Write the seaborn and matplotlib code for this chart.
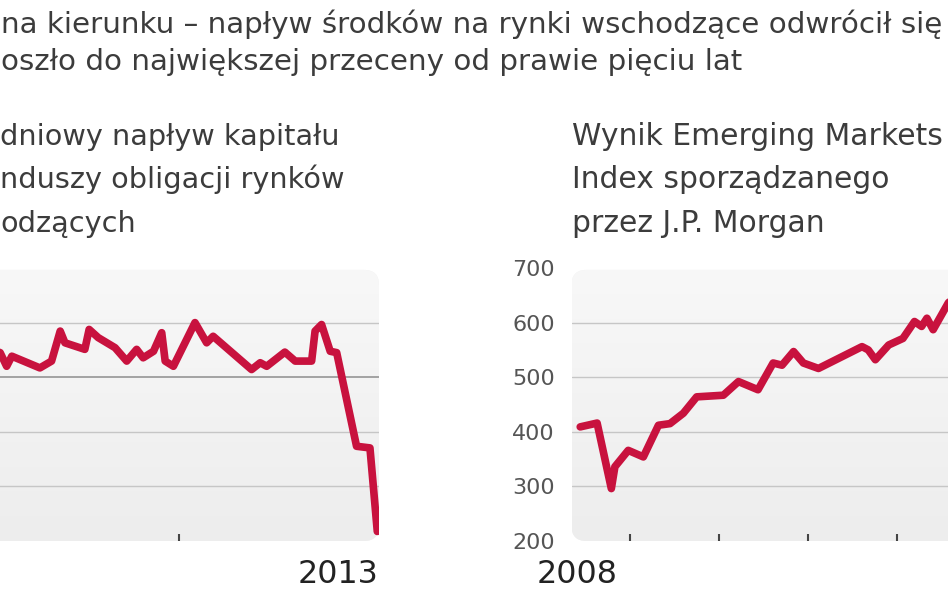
import numpy as np
import pandas as pd
import matplotlib
matplotlib.use("Agg")
import matplotlib.pyplot as plt
from matplotlib.patches import FancyBboxPatch
import seaborn as sns

# ---------------- data ----------------
title_lines = ["na kierunku – napływ środków na rynki wschodzące odwrócił się",
               "oszło do największej przeceny od prawie pięciu lat"]
left_subtitle = ["dniowy napływ kapitału",
                 "nduszy obligacji rynków",
                 "odzących"]
right_subtitle = ["Wynik Emerging Markets",
                  "Index sporządzanego",
                  "przez J.P. Morgan"]
left_year_label = "2013"
right_year_label = "2008"

# weekly net flows into EM bond funds (bn USD), time in fractional years
flow_dates = [2012.563, 2012.586, 2012.601, 2012.613, 2012.678, 2012.705, 2012.725,
              2012.736, 2012.782, 2012.792, 2012.813, 2012.852, 2012.879, 2012.902,
              2012.917, 2012.941, 2012.960, 2012.968, 2012.987, 2013.037, 2013.064,
              2013.079, 2013.168, 2013.188, 2013.203, 2013.245, 2013.269, 2013.307,
              2013.315, 2013.330, 2013.350, 2013.365, 2013.411, 2013.442, 2013.459]
flow_values = [1.02, 0.90, 0.40, 0.77, 0.34, 0.59, 1.69,
               1.26, 1.02, 1.75, 1.45, 1.08, 0.59, 1.02,
               0.71, 0.95, 1.63, 0.59, 0.40, 2.00, 1.26,
               1.50, 0.28, 0.53, 0.40, 0.92, 0.59, 0.59,
               1.69, 1.93, 0.95, 0.90, -2.53, -2.59, -5.65]
flow_grid = [2, -2, -4]
flow_zero = 0
flow_xticks = [2012.5, 2013.0]

# J.P. Morgan EMBI level
embi_dates = [2008.44, 2008.63, 2008.79, 2008.83, 2008.98, 2009.15, 2009.32, 2009.45,
              2009.60, 2009.75, 2010.05, 2010.22, 2010.44, 2010.61, 2010.71, 2010.84,
              2010.95, 2011.12, 2011.61, 2011.68, 2011.76, 2011.91, 2012.07, 2012.20,
              2012.28, 2012.34, 2012.41, 2012.58, 2012.71]
embi_values = [409, 416, 296, 336, 366, 354, 412, 415,
               434, 464, 467, 492, 477, 526, 522, 547,
               526, 516, 556, 550, 532, 559, 571, 602,
               593, 608, 587, 636, 660]
embi_yticks = [200, 300, 400, 500, 600, 700]
embi_grid = [300, 400, 500, 600]
embi_xticks = [2009, 2010, 2011, 2012, 2013]

flows = pd.DataFrame({"date": flow_dates, "value": flow_values})
embi = pd.DataFrame({"date": embi_dates, "value": embi_values})

# ---------------- style ----------------
sns.set_theme(style="white")
plt.rcParams["font.family"] = ["DejaVu Sans"]

W, H = 948, 593
fig = plt.figure(figsize=(W / 100, H / 100), dpi=100)
fig.patch.set_facecolor("white")
renderer = fig.canvas.get_renderer()

RED = "#c8123e"
TXT = "#3c3c3c"


def text_px(s, size, **kw):
    t = fig.text(0, 0, s, fontsize=size, **kw)
    w = t.get_window_extent(renderer=renderer).width
    t.remove()
    return w


def fit(s, target, **kw):
    return 20 * target / text_px(s, 20, **kw)


def ftext(xpx, basepx, s, **kw):
    return fig.text(xpx / W, 1 - basepx / H, s, va="baseline", **kw)


def add_px_axes(l, r, top, bottom):
    return fig.add_axes([l / W, 1 - bottom / H, (r - l) / W, (bottom - top) / H])


def panel(ax, top_frac=0.993):
    bb = ax.get_position()
    wpx, hpx = bb.width * W, bb.height * H
    r = 15 / wpx
    p = FancyBboxPatch((0, 0), 1, top_frac, boxstyle=f"round,pad=0,rounding_size={r}",
                       mutation_aspect=wpx / hpx, transform=ax.transAxes,
                       facecolor="#f2f2f2", edgecolor="none", zorder=0)
    ax.add_patch(p)
    grad = np.linspace(0, 1, 256).reshape(-1, 1)
    im = ax.imshow(grad, cmap=matplotlib.colors.LinearSegmentedColormap.from_list(
        "g", ["#ededed", "#f8f8f8"]), origin="lower", aspect="auto",
        extent=(0, 1, 0, top_frac), transform=ax.transAxes, zorder=0.5)
    im.set_clip_path(p)


# ---------------- titles ----------------
t_size = fit(title_lines[0], 943)
ftext(1, 33, title_lines[0], fontsize=t_size, color=TXT)
ftext(1, 70, title_lines[1], fontsize=t_size, color=TXT)

s_size = fit(right_subtitle[0], 371)
for line, base in zip(right_subtitle, [145, 188, 232]):
    ftext(572, base, line, fontsize=s_size, color=TXT)
l_size = fit(left_subtitle[1], 343)
for line, base in zip(left_subtitle, [145, 188, 232]):
    ftext(0, base, line, fontsize=l_size, color=TXT)

# ---------------- left chart: flows ----------------
axL = add_px_axes(-140, 379, 268, 541)
year_px_L = 432.0
xlimL = (2013 + (-140 - 179) / year_px_L, 2013 + (379 - 179) / year_px_L)
panel(axL)
for g in flow_grid:
    axL.axhline(g, color="#c6c6c6", lw=1.0, zorder=1)
axL.axhline(flow_zero, color="#8c8c8c", lw=1.1, zorder=1)
sns.lineplot(data=flows, x="date", y="value", ax=axL, color=RED, linewidth=5.5,
             solid_joinstyle="round", solid_capstyle="round", zorder=3)
axL.set_xlim(*xlimL)
axL.set_ylim(-6, 4)
axL.set_xticks(flow_xticks)
axL.set_xticklabels([])
axL.set_yticks([])
axL.tick_params(axis="x", direction="in", length=5, width=1.5, color="#444", bottom=True)
axL.set_xlabel("")
axL.set_ylabel("")
for sp in axL.spines.values():
    sp.set_visible(False)
axL.set_facecolor("none")

# ---------------- right chart: EMBI ----------------
axR = add_px_axes(571.5, 1100, 268, 541)
year_px_R = 88.9
xlimR = (2009 + (571.5 - 630) / year_px_R, 2009 + (1100 - 630) / year_px_R)
panel(axR)
for g in embi_grid:
    axR.axhline(g, color="#c6c6c6", lw=1.0, zorder=1)
sns.lineplot(data=embi, x="date", y="value", ax=axR, color=RED, linewidth=5.5,
             solid_joinstyle="round", solid_capstyle="round", zorder=3)
axR.set_xlim(*xlimR)
axR.set_ylim(200, 700)
axR.set_xticks(embi_xticks)
axR.set_xticklabels([])
axR.set_yticks(embi_yticks)
axR.set_yticklabels([str(v) for v in embi_yticks])
axR.tick_params(axis="x", direction="in", length=5, width=1.5, color="#444", bottom=True)
axR.tick_params(axis="y", length=0, pad=12, labelsize=16, labelcolor="#555555")
axR.set_xlabel("")
axR.set_ylabel("")
for sp in axR.spines.values():
    sp.set_visible(False)
axR.set_facecolor("none")

# ---------------- year labels ----------------
y_size = fit("2008", 81)
ftext(337.5, 583, left_year_label, fontsize=y_size, color="#222222", ha="center")
ftext(577.5, 583, right_year_label, fontsize=y_size, color="#222222", ha="center")

fig.savefig("out.png", dpi=100)
